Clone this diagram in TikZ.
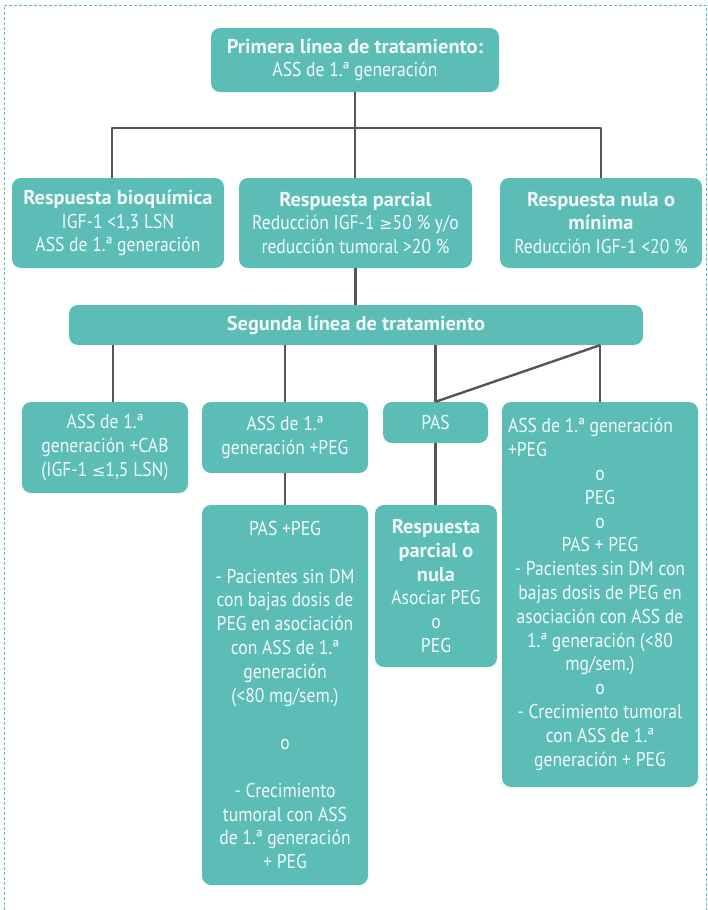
\documentclass[tikz,border=0pt]{standalone}
\usepackage{fontspec}
\setmainfont{PT Sans}[UprightFeatures={FakeStretch=0.88},BoldFeatures={FakeStretch=1.02}]
\newfontfamily\symfont{DejaVu Sans}[Scale=0.8]
\usetikzlibrary{calc}

\definecolor{boxteal}{HTML}{5BBDB6}
\definecolor{boxtext}{HTML}{F2FAF9}
\definecolor{linkgray}{HTML}{555555}

\newcommand{\geqsym}{{\symfont ≥}}
\newcommand{\leqsym}{{\symfont ≤}}

\begin{document}
\begin{tikzpicture}[
  x=1pt,
  y=-1pt,
  line join=round,
  box/.style={fill=boxteal,text=boxtext,rounded corners=9pt,align=center,
    inner sep=0pt,font=\fontsize{20}{23.8}\selectfont},
  link/.style={draw=linkgray,line width=2.4pt},
  frame/.style={draw=boxteal,line width=0.8pt,dash pattern=on 3pt off 2pt}
]
  \useasboundingbox (0,0) rectangle (708,910);

  % Outer dashed frame.
  \draw[frame] (4,930) -- (4,5) -- (706,5) -- (706,930);

  % First line and responses.
  \node[box,minimum width=288,minimum height=64] (first) at (355,60)
    {\textbf{Primera línea de tratamiento:}\\ASS de 1.ª generación};
  \node[box,minimum width=212,minimum height=90] (bioq) at (118,223)
    {\textbf{Respuesta bioquímica}\\IGF-1 <1,3 LSN\\ASS de 1.ª generación};
  \node[box,minimum width=233,minimum height=90] (parcial) at (355.5,223)
    {\textbf{Respuesta parcial}\\Reducción IGF-1 \geqsym50 \% y/o\\reducción tumoral >20 \%};
  \node[box,minimum width=202,minimum height=90] (nula) at (601,223)
    {\textbf{Respuesta nula o}\\\textbf{mínima}\\Reducción IGF-1 <20 \%};

  % Second line.
  \node[box,minimum width=574,minimum height=40] (segunda) at (356,325)
    {\textbf{Segunda línea de tratamiento}};

  % Second line options.
  \node[box,minimum width=166,minimum height=91] (cab) at (105,447.5)
    {ASS de 1.ª\\generación +CAB\\(IGF-1 \leqsym1,5 LSN)};
  \node[box,minimum width=166,minimum height=71] (peg) at (285,437.5)
    {ASS de 1.ª\\generación +PEG};
  \node[box,minimum width=105,minimum height=41] (pas) at (435.5,422.5)
    {PAS};
  \node[box,minimum width=196,minimum height=385] (combo) at (600,594.5)
    {\makebox[184pt][l]{ASS de 1.ª generación}\\\makebox[184pt][l]{+PEG}\\
     o\\PEG\\o\\PAS + PEG\\- Pacientes sin DM con\\bajas dosis de PEG en\\
     asociación con ASS de\\1.ª generación (<80\\mg/sem.)\\o\\
     - Crecimiento tumoral\\con ASS de 1.ª\\generación + PEG};

  % Third step.
  \node[box,minimum width=166,minimum height=380] (paspeg) at (285,695)
    {PAS +PEG\\[23.8pt]- Pacientes sin DM\\con bajas dosis de\\PEG en asociación\\
     con ASS de 1.ª\\generación\\(<80 mg/sem.)\\[23.8pt]o\\[23.8pt]
     - Crecimiento\\tumoral con ASS\\de 1.ª generación\\+ PEG};
  \node[box,minimum width=122,minimum height=162] (parcnula) at (436,586)
    {\textbf{Respuesta}\\\textbf{parcial o}\\\textbf{nula}\\Asociar PEG\\o\\PEG};

  % Connectors.
  \coordinate (split) at (355,128);
  \draw[link] (first.south) -- (first.south |- parcial.north);
  \draw[link] ([xshift=-6pt]bioq.north) |- (split) -| (nula.north);
  \draw[link] (parcial.south) -- (parcial.south |- segunda.north);

  \draw[link] ([xshift=8pt]cab.north) -- ([xshift=8pt]cab.north |- segunda.south);
  \draw[link] (peg.north) -- (peg.north |- segunda.south);
  \draw[link] (pas.north) -- (pas.north |- segunda.south);
  \draw[link] (combo.north) -- (combo.north |- segunda.south);
  \draw[link] (combo.north |- segunda.south) -- (pas.north);

  \draw[link] (peg.south) -- (peg.south |- paspeg.north);
  \draw[link] (pas.south) -- (pas.south |- parcnula.north);
\end{tikzpicture}
\end{document}
